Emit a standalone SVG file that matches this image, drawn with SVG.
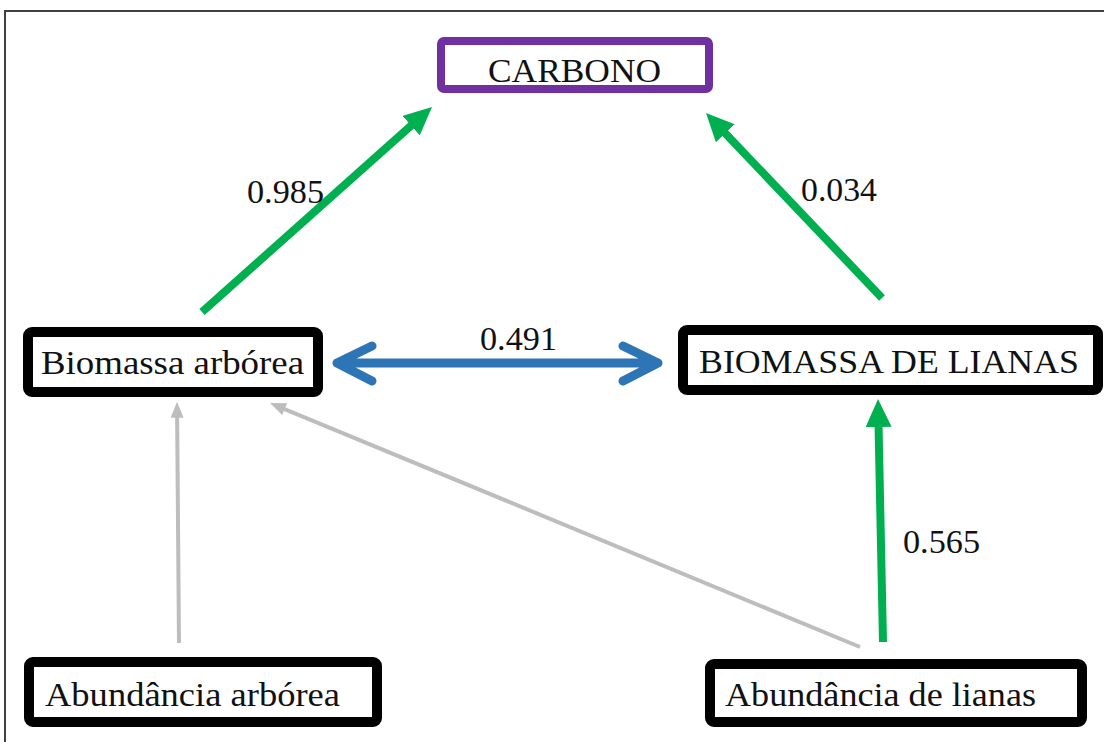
<svg xmlns="http://www.w3.org/2000/svg" width="1104" height="742" viewBox="0 0 1104 742">
<style>
.box{fill:#fff;stroke:#000;stroke-width:10;stroke-linejoin:round}
.purple{fill:#fff;stroke:#7030A0;stroke-width:8;stroke-linejoin:round}
.lbl{font-family:"Liberation Serif","Times New Roman",serif;font-size:33px;fill:#111}
.num{font-family:"Liberation Serif","Times New Roman",serif;font-size:33px;fill:#111}
.green{stroke:#00B050;stroke-width:8;fill:none;marker-end:url(#gh)}
.gray{stroke:#BDBDBD;stroke-width:4;fill:none;marker-end:url(#grh)}
.blue{stroke:#2E75B6;stroke-width:9;fill:none;stroke-linecap:round;stroke-linejoin:round}
</style>
<defs>
<marker id="gh" viewBox="0 0 28 26" markerUnits="userSpaceOnUse" markerWidth="28" markerHeight="26" refX="8.4" refY="13" orient="auto">
<path d="M0,0 L28,13 L0,26 z" fill="#00B050"/>
</marker>
<marker id="grh" viewBox="0 0 16 13" markerUnits="userSpaceOnUse" markerWidth="16" markerHeight="13" refX="4.8" refY="6.5" orient="auto">
<path d="M0,0 L16,6.5 L0,13 z" fill="#BDBDBD"/>
</marker>
</defs>
<rect width="1104" height="742" fill="#fff"/>
<path d="M5,742 V11 H1104" fill="none" stroke="#404040" stroke-width="2"/>
<g id="connectors">
<line class="green" x1="202" y1="312" x2="417.4" y2="120"/>
<line class="green" x1="882" y1="298" x2="719.5" y2="127.2"/>
<line class="green" x1="883" y1="642" x2="878.4" y2="418.6"/>
<line class="gray" x1="179" y1="643" x2="177.1" y2="413"/>
<line class="gray" x1="860" y1="647" x2="280.3" y2="407.3"/>
<path class="blue" d="M337,363 H658 M372,346 L337,363 L372,381 M623,346 L658,363 L623,381"/>
<text class="num" x="247" y="203" textLength="77" lengthAdjust="spacingAndGlyphs">0.985</text>
<text class="num" x="801" y="201" textLength="76" lengthAdjust="spacingAndGlyphs">0.034</text>
<text class="num" x="480" y="350" textLength="77" lengthAdjust="spacingAndGlyphs">0.491</text>
<text class="num" x="903" y="553" textLength="77" lengthAdjust="spacingAndGlyphs">0.565</text>
</g>
<g id="carbono">
<rect class="purple" x="441" y="41" width="268" height="48" rx="3"/>
<text class="lbl" x="488" y="82" textLength="173" lengthAdjust="spacingAndGlyphs">CARBONO</text>
</g>
<g id="biomassa-arborea">
<rect class="box" x="28" y="332" width="290" height="60" rx="4"/>
<text class="lbl" x="41" y="374" textLength="263" lengthAdjust="spacingAndGlyphs">Biomassa  arbórea</text>
</g>
<g id="biomassa-lianas">
<rect class="box" x="683" y="330" width="415" height="60" rx="4"/>
<text class="lbl" x="699" y="373" textLength="380" lengthAdjust="spacingAndGlyphs">BIOMASSA DE LIANAS</text>
</g>
<g id="abundancia-arborea">
<rect class="box" x="29" y="662" width="348" height="60" rx="4"/>
<text class="lbl" x="45" y="706" textLength="295" lengthAdjust="spacingAndGlyphs">Abundância arbórea</text>
</g>
<g id="abundancia-lianas">
<rect class="box" x="710" y="664" width="372" height="58" rx="4"/>
<text class="lbl" x="725" y="706" textLength="311" lengthAdjust="spacingAndGlyphs">Abundância de lianas</text>
</g>
</svg>
